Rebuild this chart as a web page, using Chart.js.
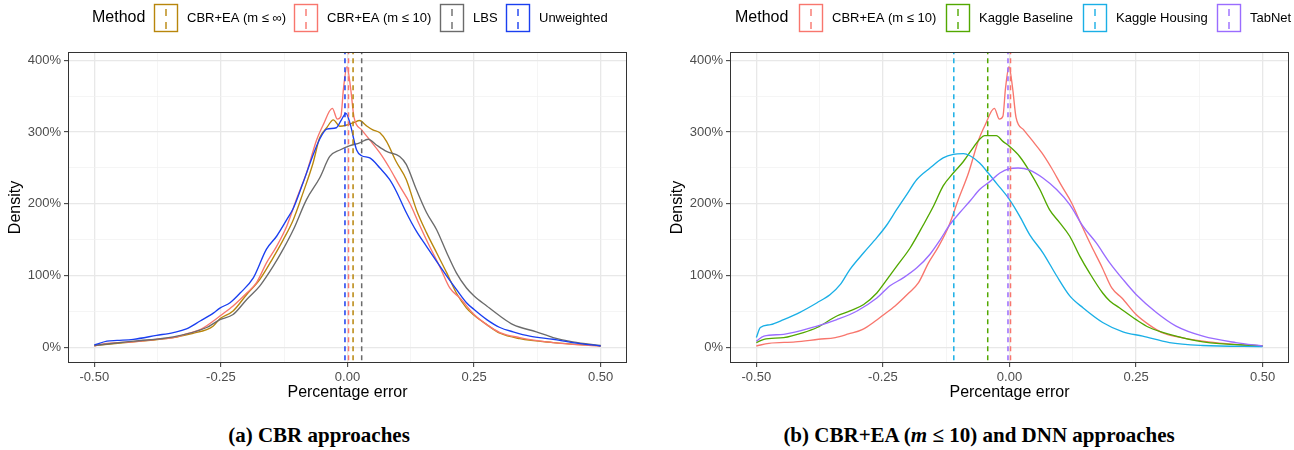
<!DOCTYPE html>
<html>
<head>
<meta charset="utf-8">
<script src="https://cdn.jsdelivr.net/npm/chart.js@4.4.0/dist/chart.umd.min.js"></script>
<style>
  body { margin: 0; background: #fff; width: 1294px; height: 450px; overflow: hidden; position: relative; }
  .panel { position: absolute; top: 0; width: 647px; height: 410px; }
  #wrapA { left: 0; }
  #wrapB { left: 647px; }
  .caption { position: absolute; top: 423px; font: bold 21px "Liberation Serif", "Times New Roman", serif; color: #000;
             white-space: nowrap; transform: translateX(-50%); }
</style>
</head>
<body>
<div class="panel" id="wrapA"><canvas id="chartA" width="647" height="410"></canvas></div>
<div class="panel" id="wrapB"><canvas id="chartB" width="647" height="410"></canvas></div>
<div class="caption" style="left:319px">(a) CBR approaches</div>
<div class="caption" style="left:979px">(b) CBR+EA (<i>m</i> ≤ 10) and DNN approaches</div>
<script>
// Methods and colours
const methodsA = ['CBR+EA (m ≤ ∞)', 'CBR+EA (m ≤ 10)', 'LBS', 'Unweighted'];
const colorsA = ['#B8860B', '#F8766D', '#6B6B6B', '#1A3FF0'];
const methodsB = ['CBR+EA (m ≤ 10)', 'Kaggle Baseline', 'Kaggle Housing', 'TabNet'];
const colorsB = ['#F8766D', '#52A800', '#1AAFE6', '#9A6CFF'];

// Density curves: [percentage error, density %]
const cbrInf = [[-0.5, 3], [-0.423, 8], [-0.344, 14], [-0.305, 20], [-0.278, 25], [-0.265, 30], [-0.252, 40],
  [-0.226, 51], [-0.199, 74], [-0.173, 95], [-0.147, 125], [-0.127, 150], [-0.107, 178], [-0.088, 215],
  [-0.068, 257], [-0.055, 292], [-0.041, 306], [-0.028, 317], [-0.015, 308], [0.0, 310], [0.012, 313],
  [0.024, 316], [0.037, 309], [0.05, 303], [0.064, 299], [0.077, 287], [0.096, 259], [0.116, 234],
  [0.136, 192], [0.156, 160], [0.176, 132], [0.196, 104], [0.215, 76], [0.235, 55], [0.25, 45],
  [0.275, 32], [0.301, 20], [0.34, 12.5], [0.406, 7], [0.5, 2.3]];
const cbr10 = [[-0.5, 2.3], [-0.475, 6], [-0.423, 8], [-0.377, 11.6], [-0.344, 14], [-0.318, 19], [-0.291, 25],
  [-0.265, 37], [-0.252, 44], [-0.226, 58], [-0.199, 76], [-0.18, 90], [-0.16, 118], [-0.14, 141],
  [-0.12, 169], [-0.101, 206], [-0.081, 243], [-0.061, 289], [-0.048, 310], [-0.03, 333], [-0.02, 318],
  [-0.013, 322], [-0.008, 360], [-0.001, 391], [0.006, 362], [0.013, 320], [0.028, 303], [0.044, 289],
  [0.064, 271], [0.083, 250], [0.103, 225], [0.123, 201], [0.142, 171], [0.162, 141], [0.182, 113],
  [0.202, 83], [0.222, 69], [0.25, 46], [0.275, 32], [0.301, 21], [0.34, 14], [0.393, 8], [0.445, 4.6], [0.5, 2.3]];
const lbs = [[-0.5, 3], [-0.423, 9], [-0.344, 15], [-0.278, 28], [-0.252, 39], [-0.226, 46], [-0.199, 67],
  [-0.173, 86], [-0.147, 113], [-0.127, 137], [-0.107, 164], [-0.081, 206], [-0.055, 236], [-0.035, 266],
  [-0.015, 275], [0.005, 281], [0.024, 285], [0.041, 290], [0.057, 282], [0.077, 273], [0.103, 266],
  [0.116, 255], [0.136, 220], [0.156, 188], [0.176, 164], [0.196, 132], [0.215, 104], [0.235, 83],
  [0.25, 72], [0.275, 58], [0.301, 44], [0.327, 32], [0.373, 22], [0.406, 14], [0.445, 8], [0.5, 3]];
const unweighted = [[-0.5, 3.7], [-0.475, 9], [-0.455, 10], [-0.423, 11.5], [-0.377, 17], [-0.344, 21],
  [-0.318, 26], [-0.291, 37], [-0.265, 48], [-0.252, 55], [-0.232, 62.5], [-0.212, 76], [-0.186, 97],
  [-0.16, 137], [-0.14, 155], [-0.12, 178], [-0.107, 194], [-0.088, 229], [-0.068, 268], [-0.055, 290],
  [-0.041, 304], [-0.022, 306], [-0.012, 317], [-0.003, 326], [0.005, 312], [0.018, 275], [0.028, 267],
  [0.044, 264], [0.064, 250], [0.083, 234], [0.096, 218], [0.116, 188], [0.136, 162], [0.156, 141],
  [0.176, 120], [0.196, 99.5], [0.215, 81], [0.235, 62.5], [0.25, 53], [0.275, 39], [0.301, 28],
  [0.327, 22], [0.36, 16], [0.406, 11.6], [0.445, 7], [0.5, 2.3]];
const kaggleBaseline = [[-0.5, 7], [-0.485, 11.6], [-0.446, 14], [-0.407, 21], [-0.38, 28], [-0.341, 44],
  [-0.315, 51], [-0.288, 60], [-0.262, 76], [-0.249, 88], [-0.223, 113], [-0.196, 139], [-0.17, 171],
  [-0.15, 197], [-0.131, 225], [-0.111, 243], [-0.091, 259], [-0.072, 278], [-0.059, 290], [-0.049, 295],
  [-0.026, 295], [-0.013, 287], [0, 280], [0.02, 266], [0.04, 245], [0.06, 220], [0.079, 192], [0.099, 174],
  [0.119, 155], [0.139, 127], [0.158, 104], [0.184, 76], [0.198, 65], [0.217, 55.5], [0.25, 39],
  [0.276, 28], [0.316, 18.5], [0.382, 8], [0.5, 2.3]];
const kaggleHousing = [[-0.5, 14], [-0.492, 28], [-0.472, 32], [-0.446, 39], [-0.413, 49.5], [-0.38, 62.5],
  [-0.354, 74], [-0.334, 88], [-0.315, 109], [-0.288, 132], [-0.262, 153], [-0.242, 171], [-0.223, 192],
  [-0.203, 213], [-0.183, 234], [-0.157, 250], [-0.131, 264], [-0.111, 269], [-0.091, 270], [-0.078, 267],
  [-0.059, 257], [-0.042, 243], [-0.026, 229], [0, 206], [0.02, 183], [0.04, 157], [0.066, 132],
  [0.093, 100], [0.119, 72], [0.145, 55.5], [0.184, 35], [0.224, 22], [0.263, 16], [0.316, 7],
  [0.382, 3], [0.5, 1.4]];
const tabnet = [[-0.5, 9], [-0.485, 16], [-0.446, 18.5], [-0.38, 30], [-0.341, 39], [-0.301, 51], [-0.262, 69],
  [-0.236, 86], [-0.21, 97], [-0.183, 111], [-0.157, 130], [-0.137, 150], [-0.118, 171], [-0.098, 188],
  [-0.078, 204], [-0.059, 220], [-0.039, 231], [-0.019, 243], [0, 249], [0.017, 250], [0.04, 247],
  [0.066, 236], [0.093, 220], [0.119, 199], [0.145, 169], [0.171, 146], [0.198, 118], [0.224, 95],
  [0.25, 74], [0.29, 49], [0.329, 30], [0.382, 16], [0.447, 7], [0.5, 2.3]];

// Mean percentage error of each method (dashed lines)
const meansA = [0.011, 0.002, 0.028, -0.005];
const meansB = [0.002, -0.043, -0.11, -0.003];

// Axis ticks
const xTicks = [-0.5, -0.25, 0, 0.25, 0.5];
const xMinor = [-0.375, -0.125, 0.125, 0.375];
const yTicks = [0, 100, 200, 300, 400];
const yMinor = [50, 150, 250, 350];

Chart.defaults.font.family = '"Liberation Sans", Arial, sans-serif';

function buildDatasets(series, means, labels, colors) {
  const sets = [];
  series.forEach((s, i) => sets.push({
    label: labels[i],
    data: s.map(p => ({ x: p[0], y: p[1] })),
    borderColor: colors[i],
    borderWidth: 1.35,
    pointRadius: 0,
    cubicInterpolationMode: 'monotone',
    order: 20 - i,
  }));
  means.forEach((m, i) => sets.push({
    label: '',
    data: [{ x: m, y: -30 }, { x: m, y: 420 }],
    borderColor: colors[i],
    borderWidth: 1.5,
    borderDash: [5, 4],
    pointRadius: 0,
    order: 10 - i,
  }));
  return sets;
}

// Grey panel border (theme_bw)
const panelBorder = {
  id: 'panelBorder',
  afterDraw(chart) {
    const { ctx, chartArea: a } = chart;
    ctx.save();
    ctx.strokeStyle = '#333333';
    ctx.lineWidth = 1;
    ctx.strokeRect(Math.round(a.left) - 0.5, Math.round(a.top) - 0.5, a.right - a.left + 1, a.bottom - a.top + 1);
    ctx.restore();
  }
};

// ggplot-like legend: "Method" + boxes with a dashed line
const methodLegend = {
  id: 'methodLegend',
  afterDraw(chart, args, opts) {
    const ctx = chart.ctx;
    const items = chart.data.datasets.filter(d => d.label);
    const y = opts.y;
    ctx.save();
    ctx.textBaseline = 'middle';
    ctx.fillStyle = '#000';
    ctx.font = '16px "Liberation Sans", Arial, sans-serif';
    ctx.fillText('Method', opts.titleX, y);
    items.forEach((d, i) => {
      const bx = opts.boxX[i];
      ctx.strokeStyle = d.borderColor;
      ctx.lineWidth = 1.4;
      ctx.setLineDash([]);
      ctx.strokeRect(bx + 0.5, y - 13.5, 23, 27);
      ctx.beginPath();
      ctx.setLineDash([7, 6]);
      ctx.moveTo(bx + 12, y - 9);
      ctx.lineTo(bx + 12, y + 13);
      ctx.stroke();
      ctx.setLineDash([]);
      ctx.fillStyle = '#000';
      ctx.font = '13px "Liberation Sans", Arial, sans-serif';
      const tx = bx + 33;
      const maxW = i < items.length - 1 ? opts.boxX[i + 1] - tx - 6 : chart.width - tx - 1;
      ctx.fillText(d.label, tx, y, maxW);
    });
    ctx.restore();
  }
};

function makeOptions(padLeft, padRight, legendOpts) {
  const gridStyle = (minorList) => ({
    color: c => minorList.includes(c.tick && c.tick.value) ? '#F0F0F0' : '#E8E8E8',
    lineWidth: c => minorList.includes(c.tick && c.tick.value) ? 0.7 : 1.3,
    tickColor: c => minorList.includes(c.tick && c.tick.value) ? 'rgba(0,0,0,0)' : '#333333',
    tickWidth: 1,
    tickLength: 5,
    drawTicks: true,
  });
  return {
    responsive: false,
    animation: false,
    events: [],
    layout: { padding: { top: 53, left: padLeft, right: padRight, bottom: 0 } },
    plugins: { legend: { display: false }, tooltip: { enabled: false }, methodLegend: legendOpts },
    scales: {
      x: {
        type: 'linear', min: -0.55, max: 0.55,
        afterBuildTicks: s => { s.ticks = xTicks.concat(xMinor).sort((a, b) => a - b).map(v => ({ value: v })); },
        afterFit: s => { s.height = 48; },
        grid: gridStyle(xMinor),
        border: { display: false },
        ticks: {
          autoSkip: false, maxRotation: 0, padding: 3, color: '#4D4D4D', font: { size: 13 },
          callback: v => xTicks.includes(v) ? v.toFixed(2) : '',
        },
        title: { display: true, text: 'Percentage error', color: '#000', font: { size: 16 }, padding: { top: 0, bottom: 8 } },
      },
      y: {
        type: 'linear', min: -20, max: 410,
        afterBuildTicks: s => { s.ticks = yTicks.concat(yMinor).sort((a, b) => a - b).map(v => ({ value: v })); },
        afterFit: s => { s.width = 69; },
        grid: gridStyle(yMinor),
        border: { display: false },
        ticks: {
          autoSkip: false, padding: 3, color: '#4D4D4D', font: { size: 13 },
          callback: v => yTicks.includes(v) ? v + '%' : '',
        },
        title: { display: true, text: 'Density', color: '#000', font: { size: 16 }, padding: { top: 6, bottom: 0 } },
      },
    },
  };
}

new Chart(document.getElementById('chartA'), {
  type: 'line',
  data: { datasets: buildDatasets([cbrInf, cbr10, lbs, unweighted], meansA, methodsA, colorsA) },
  options: makeOptions(0, 21, { y: 18, titleX: 92, boxX: [154, 294, 440, 506] }),
  plugins: [panelBorder, methodLegend],
});

new Chart(document.getElementById('chartB'), {
  type: 'line',
  data: { datasets: buildDatasets([cbr10, kaggleBaseline, kaggleHousing, tabnet], meansB, methodsB, colorsB) },
  options: makeOptions(15, 6, { y: 18, titleX: 88, boxX: [152, 299, 436, 570] }),
  plugins: [panelBorder, methodLegend],
});
</script>
</body>
</html>
